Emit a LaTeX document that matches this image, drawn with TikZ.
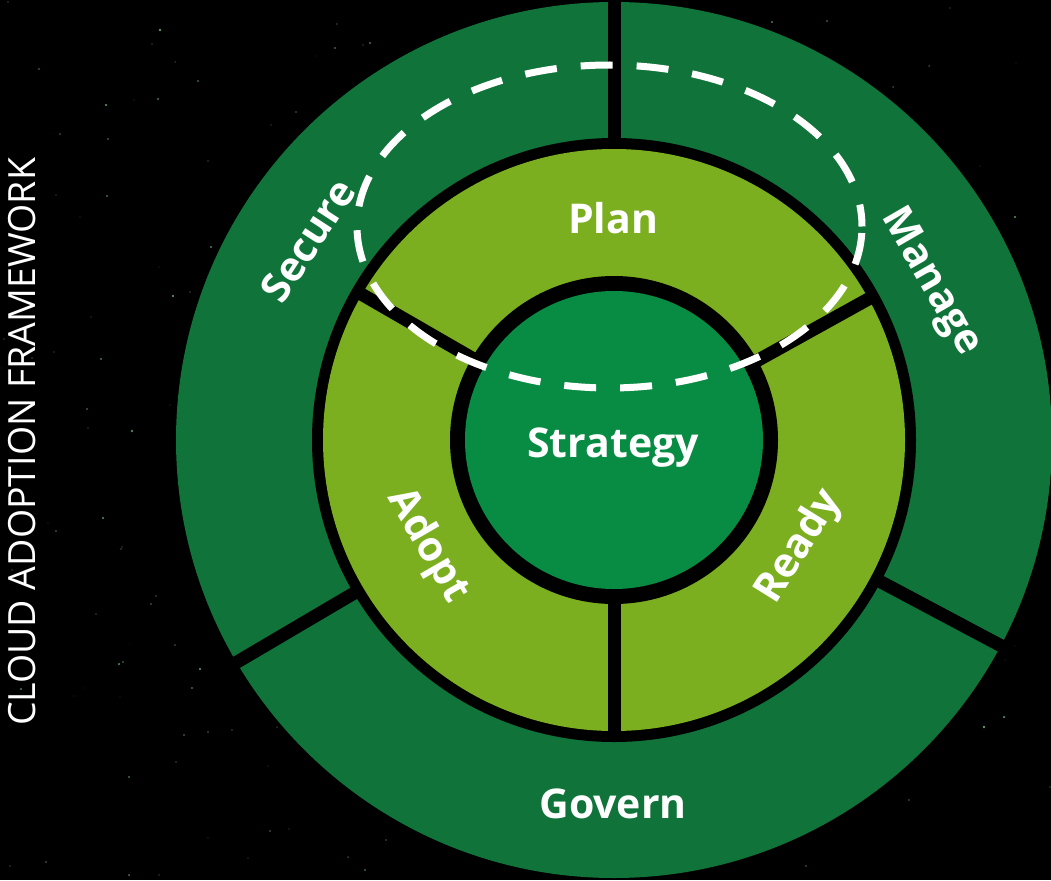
\documentclass[tikz,border=0pt]{standalone}
\usepackage{fontspec}
\setmainfont{Open Sans}
\usetikzlibrary{calc}
\definecolor{darkg}{RGB}{16,116,58}
\definecolor{lightg}{RGB}{123,175,31}
\definecolor{innerg}{RGB}{8,140,67}
\definecolor{starc}{RGB}{140,205,150}
\tikzset{
  lbl/.style={text=white,font=\bfseries\fontsize{41}{50}\selectfont,inner sep=0pt},
  divider/.style={draw=black,line width=13pt},
  dashring/.style={draw=white,line width=7pt,dash pattern=on 32pt off 24pt}
}
\begin{document}
\begin{tikzpicture}[x=1pt,y=-1pt]
\fill[black] (0,0) rectangle (1051,880);
\useasboundingbox (0,0) rectangle (1051,880);
% stars
\pgfmathsetseed{7}
\foreach \i in {1,...,260}{
  \pgfmathsetmacro\sx{random(0,1051)}
  \pgfmathsetmacro\sy{random(0,880)}
  \pgfmathsetmacro\sr{0.4+0.9*rnd}
  \pgfmathsetmacro\so{0.25+0.6*rnd}
  \fill[starc,opacity=\so] (\sx,\sy) circle[radius=\sr pt];
}
\coordinate (c) at (614,440);
% rings
\fill[darkg] (c) circle[radius=438pt];
\fill[black] (c) circle[radius=302pt];
\fill[lightg] (c) circle[radius=291pt];
\fill[black] (c) circle[radius=164pt];
\fill[innerg] (c) circle[radius=149pt];
% divider end points
\coordinate (t1) at ($(c)+(90:296pt)$);
\coordinate (t2) at ($(c)+(90:445pt)$);
\coordinate (ll1) at ($(c)+(210.5:296pt)$);
\coordinate (ll2) at ($(c)+(210.5:445pt)$);
\coordinate (lr1) at ($(c)+(-28:296pt)$);
\coordinate (lr2) at ($(c)+(-28:445pt)$);
\coordinate (ul1) at ($(c)+(150:158pt)$);
\coordinate (ul2) at ($(c)+(150:297pt)$);
\coordinate (ur1) at ($(c)+(29:158pt)$);
\coordinate (ur2) at ($(c)+(29:297pt)$);
\coordinate (b1) at ($(c)+(270:158pt)$);
\coordinate (b2) at ($(c)+(270:297pt)$);
\draw[divider] (t1) -- (t2);
\draw[divider] (ll1) -- (ll2);
\draw[divider] (lr1) -- (lr2);
\draw[divider] (ul1) -- (ul2);
\draw[divider] (ur1) -- (ur2);
\draw[divider] (b1) -- (b2);
% dashed ellipse
\coordinate (ec) at (609.5,226.5);
\draw[dashring,dash phase=10pt] (ec) ellipse[x radius=252.5pt, y radius=161.5pt];
% labels
\node[lbl,anchor=base] (plan) at (613,233) {Plan};
\node[lbl,anchor=base] (strategy) at (613,457) {Strategy};
\node[lbl,anchor=base] (govern) at (613,818) {Govern};
\node[lbl,anchor=mid,rotate=57] (secure) at (318,247) {Secure};
\node[lbl,anchor=mid,rotate=-60] (manage) at (924,286) {Manage};
\node[lbl,anchor=mid,rotate=-60] (adopt) at (421,550) {Adopt};
\node[lbl,anchor=mid,rotate=58] (ready) at (806,551) {Ready};
\node[text=white,font=\fontsize{37.5}{45}\selectfont,inner sep=0pt,rotate=90,anchor=center] (caf) at (22.5,442) {CLOUD ADOPTION FRAMEWORK};
\end{tikzpicture}
\end{document}
